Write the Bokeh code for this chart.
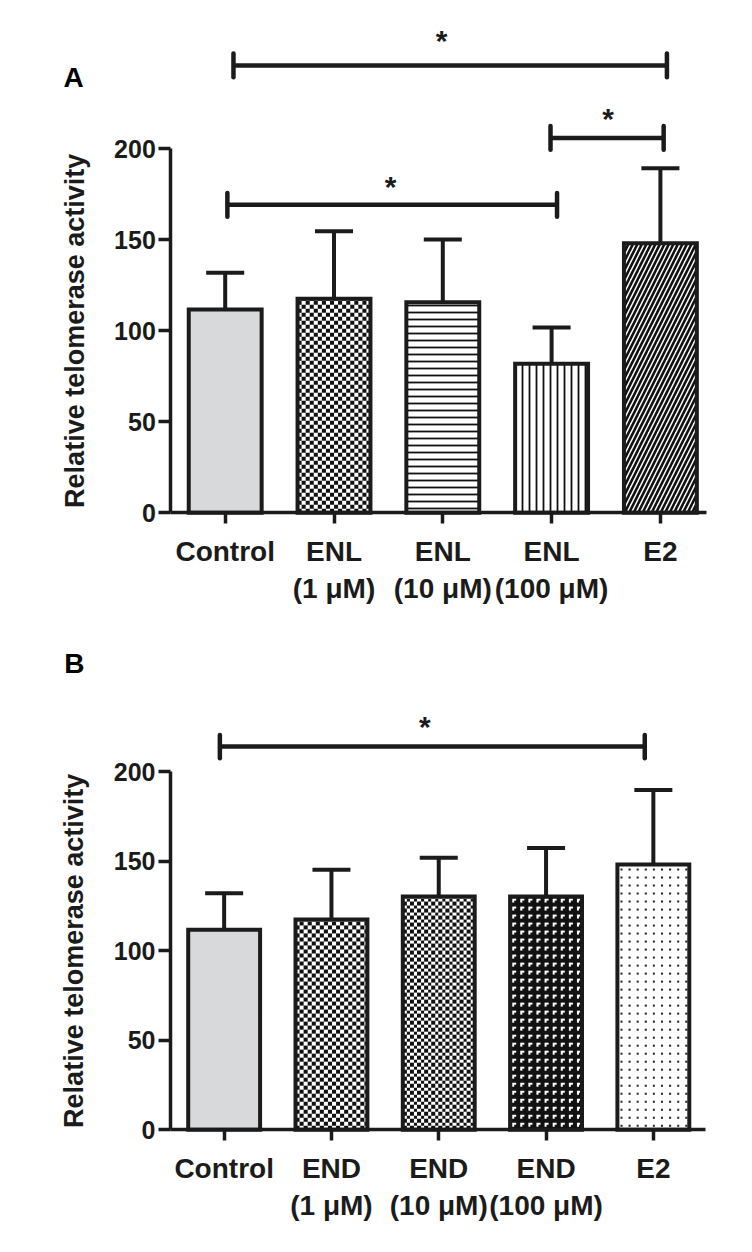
import math
import numpy as np
from bokeh.plotting import figure
from bokeh.models import ColumnDataSource, FixedTicker, Whisker, TeeHead, Range1d
from bokeh.layouts import column
from bokeh.embed import file_html
from bokeh.resources import INLINE
from bokeh.core.properties import value

# ---------------- data ----------------
labels_a = ["Control", "ENL\n(1 μM)", "ENL\n(10 μM)", "ENL\n(100 μM)", "E2"]
means_a = [111.7, 117.6, 115.7, 81.9, 148.1]
sd_a = [20.2, 37.1, 34.5, 19.9, 41.2]

labels_b = ["Control", "END\n(1 μM)", "END\n(10 μM)", "END\n(100 μM)", "E2"]
means_b = [111.7, 117.5, 130.3, 130.3, 148.2]
sd_b = [20.5, 27.8, 21.7, 27.2, 41.7]

# significance brackets (category units / value units)
br_a_x0 = [0.076, 2.99, 0.02]
br_a_x1 = [4.06, 4.03, 3.05]
br_a_y = [245.8, 206.0, 169.2]
star_a_x = [1.988, 3.52, 1.519]
star_a_y = [261.3, 218.3, 181.1]

br_b_x0 = [-0.04]
br_b_x1 = [3.92]
br_b_y = [214.1]
star_b_x = [1.871]
star_b_y = [227.0]

y_ticks = [0, 50, 100, 150, 200]
y_title = "Relative telomerase activity"

# ---------------- styles ----------------
INK = "#1b1b1b"
FONT = "Liberation Sans"
BAR_W = 0.67

fills_a = ["#d8d9da", "white", "white", "white", "white"]
pat_a = [" ", " ", "horizontal_line", "vertical_line", "right_diagonal_line"]
tex_a = [None, "checker", None, None, None]
scale_a = [12, 8, 7, 7, 9]
weight_a = [1, 1, 1.8, 1.8, 2.6]

fills_b = ["#d8d9da", "white", "white", "white", "white"]
pat_b = [" ", " ", " ", " ", " "]
tex_b = [None, "checker", "fine_checker", "corner", "dots"]
scale_b = [12, 12, 12, 12, 12]
weight_b = [1, 1, 1, 1, 1]


def texture_image(kind, ny, nx):
    yy, xx = np.mgrid[0:ny, 0:nx]
    dark_rgb = (17, 17, 17)
    if kind == "checker":
        dark = ((xx // 4 + yy // 4) % 2) == 0
    elif kind == "fine_checker":
        dark = (((xx * 2) // 7 + (yy * 2) // 7) % 2) == 0
    elif kind == "corner":
        tile = np.zeros((8, 8), dtype=bool)
        tile[2:4, 2:6] = True
        tile[2:6, 2:4] = True
        dark = ~tile[yy % 8, xx % 8]
        dark = np.flipud(dark)
    elif kind == "dots":
        tile = np.zeros((8, 8), dtype=bool)
        tile[3:5, 3:5] = True
        dark = tile[yy % 8, xx % 8]
        dark_rgb = (35, 35, 35)
    else:
        dark = np.zeros((ny, nx), dtype=bool)
    img = np.empty((ny, nx), dtype=np.uint32)
    view = img.view(dtype=np.uint8).reshape((ny, nx, 4))
    view[...] = (255, 255, 255, 255)
    view[dark] = dark_rgb + (255,)
    return img


def make_panel(letter, labels, means, sds, fills, pats, texs, scales, weights,
               bx0, bx1, by, sx, sy, height, zero_px, px_per_unit,
               px_per_cat, axis_px, axis_end, letter_xy, title_x):
    border = 12
    width = 752
    y_end = (zero_px - border) / px_per_unit
    y_start = -(height - border - zero_px) / px_per_unit
    x_start = -0.5 - axis_px / px_per_cat
    x_end = x_start + width / px_per_cat
    p = figure(width=width, height=height, output_backend="svg", toolbar_location=None,
               title=None, x_range=Range1d(x_start, x_end),
               y_range=Range1d(y_start, y_end), min_border_left=0, min_border_right=0,
               min_border_top=border, min_border_bottom=border)
    p.outline_line_color = None
    p.grid.visible = False

    xs = list(range(len(means)))
    upper = [m + s for m, s in zip(means, sds)]

    # textured fills drawn as images under the bar outlines
    for i, kind in enumerate(texs):
        if kind is None:
            continue
        nx = int(round(BAR_W * px_per_cat))
        ny = int(round(means[i] * px_per_unit))
        p.image_rgba(image=[texture_image(kind, ny, nx)], x=xs[i] - BAR_W / 2, y=0,
                     dw=BAR_W, dh=means[i])

    bar_fill = [None if t is not None else f for f, t in zip(fills, texs)]
    src = ColumnDataSource(dict(x=xs, top=means, upper=upper, fill=bar_fill,
                                pat=pats, hs=scales, hw=weights))
    p.vbar(x="x", top="top", bottom=0, width=BAR_W, source=src, fill_color="fill",
           line_color=INK, line_width=4, line_join="miter",
           hatch_pattern="pat", hatch_color="#111111", hatch_scale="hs",
           hatch_weight="hw")

    w = Whisker(base="x", lower="top", upper="upper", source=src,
                line_color=INK, line_width=4,
                upper_head=TeeHead(size=38, line_width=4, line_color=INK),
                lower_head=None)
    p.add_layout(w)

    cap = 6.5
    p.segment(x0=bx0, y0=by, x1=bx1, y1=by, line_color=INK, line_width=4.5)
    p.segment(x0=bx0 + bx1, y0=[y - cap for y in by] * 2, x1=bx0 + bx1,
              y1=[y + cap for y in by] * 2, line_color=INK, line_width=4.5,
              line_cap="round")
    p.text(x=sx, y=sy, text=["*"] * len(sx), text_font=value(FONT),
           text_font_style="bold", text_font_size="30px", text_color=INK,
           text_align="center", text_baseline="alphabetic", y_offset=3)

    # panel letter and y title
    p.text(x=[letter_xy[0]], y=[letter_xy[1]], text=[letter], text_font=value(FONT),
           text_font_style="bold", text_font_size="28px", text_color="black",
           text_align="center", text_baseline="middle")
    p.text(x=[title_x], y=[100], text=[y_title], angle=math.pi / 2,
           text_font=value(FONT), text_font_style="bold", text_font_size="27px",
           text_color=INK, text_align="center", text_baseline="middle")

    xa = p.xaxis[0]
    xa.fixed_location = 0
    xa.ticker = FixedTicker(ticks=xs)
    xa.major_label_overrides = {i: lab for i, lab in enumerate(labels)}
    xa.bounds = (-0.5, axis_end)
    xa.axis_line_width = 3.5
    xa.axis_line_color = INK
    xa.major_tick_line_width = 3.5
    xa.major_tick_line_color = INK
    xa.major_tick_out = 11
    xa.major_tick_in = 0
    xa.minor_tick_line_color = None
    xa.major_label_text_font = FONT
    xa.major_label_text_font_style = "bold"
    xa.major_label_text_font_size = "28px"
    xa.major_label_text_color = INK
    xa.major_label_standoff = 12

    ya = p.yaxis[0]
    ya.fixed_location = -0.5
    ya.ticker = FixedTicker(ticks=y_ticks)
    ya.bounds = (0, 200)
    ya.axis_line_width = 3.5
    ya.axis_line_color = INK
    ya.major_tick_line_width = 3.5
    ya.major_tick_line_color = INK
    ya.major_tick_out = 12
    ya.major_tick_in = 0
    ya.minor_tick_line_color = None
    ya.major_label_text_font = FONT
    ya.major_label_text_font_style = "bold"
    ya.major_label_text_font_size = "25px"
    ya.major_label_text_color = INK
    ya.major_label_standoff = 3
    return p


pa = make_panel("A", labels_a, means_a, sd_a, fills_a, pat_a, tex_a, scale_a, weight_a,
                br_a_x0, br_a_x1, br_a_y, star_a_x, star_a_y,
                height=626, zero_px=512.3, px_per_unit=1.82, px_per_cat=108.8,
                axis_px=170.3, axis_end=4.42, letter_xy=(-1.394, 239.3),
                title_x=-1.385)
pb = make_panel("B", labels_b, means_b, sd_b, fills_b, pat_b, tex_b, scale_b, weight_b,
                br_b_x0, br_b_x1, br_b_y, star_b_x, star_b_y,
                height=626, zero_px=503.3, px_per_unit=1.79, px_per_cat=107.3,
                axis_px=170.0, axis_end=4.49, letter_xy=(-1.396, 260.5),
                title_x=-1.396)

layout = column(pa, pb, spacing=0)
open("out.html", "w").write(file_html(layout, INLINE))
